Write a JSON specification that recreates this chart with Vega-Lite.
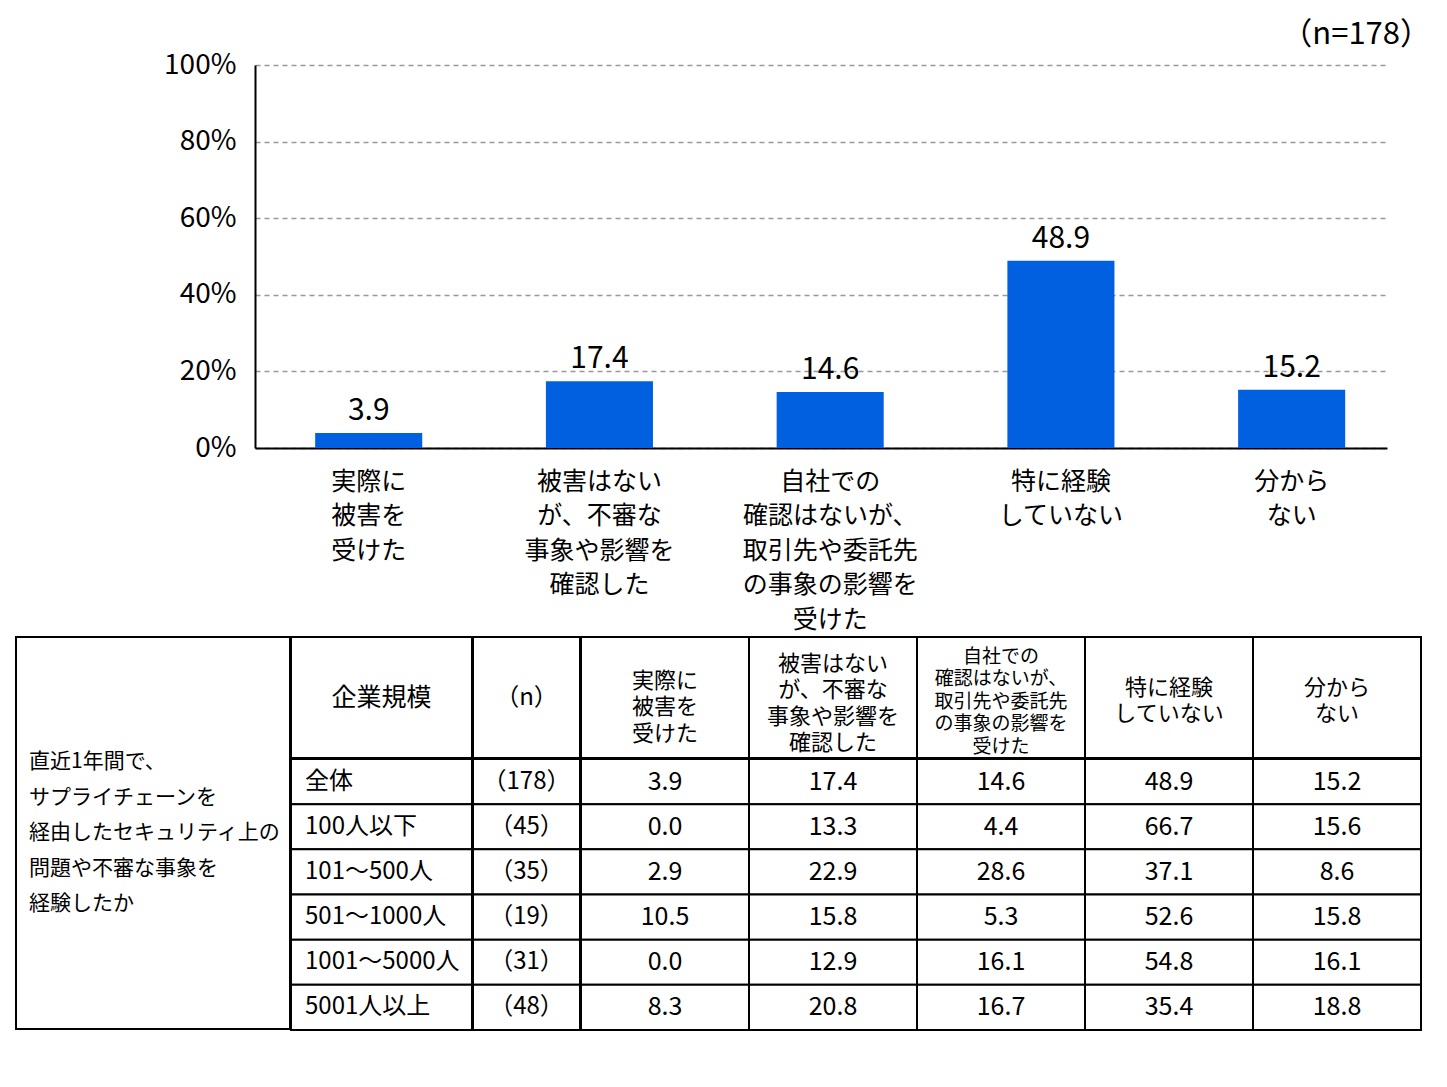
{
  "$schema": "https://vega.github.io/schema/vega-lite/v6.json",
  "background": "white",
  "padding": {"left": 15, "top": 19, "right": 10, "bottom": 10},
  "datasets": {
    "sizes": [
      {"size": "全体", "n": 178},
      {"size": "100人以下", "n": 45},
      {"size": "101～500人", "n": 35},
      {"size": "501～1000人", "n": 19},
      {"size": "1001～5000人", "n": 31},
      {"size": "5001人以上", "n": 48}
    ],
    "results": [
      {"size": "全体", "item": "実際に\n被害を\n受けた", "value": 3.9},
      {"size": "全体", "item": "被害はない\nが、不審な\n事象や影響を\n確認した", "value": 17.4},
      {"size": "全体", "item": "自社での\n確認はないが、\n取引先や委託先\nの事象の影響を\n受けた", "value": 14.6},
      {"size": "全体", "item": "特に経験\nしていない", "value": 48.9},
      {"size": "全体", "item": "分から\nない", "value": 15.2},
      {"size": "100人以下", "item": "実際に\n被害を\n受けた", "value": 0.0},
      {"size": "100人以下", "item": "被害はない\nが、不審な\n事象や影響を\n確認した", "value": 13.3},
      {"size": "100人以下", "item": "自社での\n確認はないが、\n取引先や委託先\nの事象の影響を\n受けた", "value": 4.4},
      {"size": "100人以下", "item": "特に経験\nしていない", "value": 66.7},
      {"size": "100人以下", "item": "分から\nない", "value": 15.6},
      {"size": "101～500人", "item": "実際に\n被害を\n受けた", "value": 2.9},
      {"size": "101～500人", "item": "被害はない\nが、不審な\n事象や影響を\n確認した", "value": 22.9},
      {"size": "101～500人", "item": "自社での\n確認はないが、\n取引先や委託先\nの事象の影響を\n受けた", "value": 28.6},
      {"size": "101～500人", "item": "特に経験\nしていない", "value": 37.1},
      {"size": "101～500人", "item": "分から\nない", "value": 8.6},
      {"size": "501～1000人", "item": "実際に\n被害を\n受けた", "value": 10.5},
      {"size": "501～1000人", "item": "被害はない\nが、不審な\n事象や影響を\n確認した", "value": 15.8},
      {"size": "501～1000人", "item": "自社での\n確認はないが、\n取引先や委託先\nの事象の影響を\n受けた", "value": 5.3},
      {"size": "501～1000人", "item": "特に経験\nしていない", "value": 52.6},
      {"size": "501～1000人", "item": "分から\nない", "value": 15.8},
      {"size": "1001～5000人", "item": "実際に\n被害を\n受けた", "value": 0.0},
      {"size": "1001～5000人", "item": "被害はない\nが、不審な\n事象や影響を\n確認した", "value": 12.9},
      {"size": "1001～5000人", "item": "自社での\n確認はないが、\n取引先や委託先\nの事象の影響を\n受けた", "value": 16.1},
      {"size": "1001～5000人", "item": "特に経験\nしていない", "value": 54.8},
      {"size": "1001～5000人", "item": "分から\nない", "value": 16.1},
      {"size": "5001人以上", "item": "実際に\n被害を\n受けた", "value": 8.3},
      {"size": "5001人以上", "item": "被害はない\nが、不審な\n事象や影響を\n確認した", "value": 20.8},
      {"size": "5001人以上", "item": "自社での\n確認はないが、\n取引先や委託先\nの事象の影響を\n受けた", "value": 16.7},
      {"size": "5001人以上", "item": "特に経験\nしていない", "value": 35.4},
      {"size": "5001人以上", "item": "分から\nない", "value": 18.8}
    ]
  },
  "config": {
    "font": "Noto Sans CJK JP",
    "view": {"stroke": null},
    "axis": {"minExtent": 0},
    "text": {"color": "black"}
  },
  "spacing": 4,
  "vconcat": [
    {
      "spacing": 0,
      "hconcat": [
        {
          "width": 1,
          "height": 1,
          "data": {"values": [{}]},
          "mark": {"type": "rect", "opacity": 0},
          "encoding": {}
        },
        {
          "width": 1132,
          "height": 383,
          "title": {"text": "（n=178）", "anchor": "end", "fontSize": 31, "fontWeight": "normal", "color": "black", "dx": 44, "offset": 0},
          "data": {"name": "results"},
          "transform": [{"filter": "datum.size == '全体'"}],
          "encoding": {
            "x": {
              "field": "item",
              "type": "nominal",
              "sort": null,
              "scale": {"paddingInner": 0.536, "paddingOuter": 0.221, "align": 0.59},
              "axis": {
                "title": null,
                "labelAngle": 0,
                "labelExpr": "split(datum.label, '\\n')",
                "labelFontSize": 25,
                "labelLineHeight": 34.5,
                "labelPadding": 21,
                "labelColor": "black",
                "labelBaseline": "top",
                "ticks": false,
                "domainColor": "black",
                "domainWidth": 2
              }
            },
            "y": {
              "field": "value",
              "type": "quantitative",
              "scale": {"domain": [0, 100]},
              "axis": {
                "title": null,
                "values": [0, 20, 40, 60, 80, 100],
                "labelExpr": "datum.value + '%'",
                "labelFontSize": 28,
                "labelPadding": 19,
                "labelColor": "black",
                "ticks": false,
                "domainColor": "black",
                "domainWidth": 2,
                "gridColor": "#999999",
                "gridDash": [5, 4],
                "gridWidth": 1.5,
                "minExtent": 238
              }
            }
          },
          "layer": [
            {"mark": {"type": "bar", "color": "#0060df"}},
            {
              "mark": {"type": "text", "fontSize": 30, "baseline": "alphabetic", "dy": -13},
              "encoding": {"text": {"field": "value", "format": ".1f"}}
            }
          ]
        }
      ]
    },
    {
      "spacing": -2,
      "hconcat": [
        {
          "width": 274,
          "height": 392,
          "view": {"stroke": "black", "strokeWidth": 2},
          "data": {"values": [{}]},
          "mark": {
            "type": "text",
            "text": ["直近1年間で、", "サプライチェーンを", "経由したセキュリティ上の", "問題や不審な事象を", "経験したか"],
            "align": "left",
            "baseline": "middle",
            "fontSize": 21,
            "lineHeight": 35.5,
            "dx": -124,
            "dy": -71
          },
          "encoding": {}
        },
        {
          "spacing": -2,
          "vconcat": [
            {
              "spacing": -2,
              "hconcat": [
                {
                  "width": 181,
                  "height": 121,
                  "view": {"stroke": "black", "strokeWidth": 2},
                  "data": {"values": [{}]},
                  "mark": {"type": "text", "text": "企業規模", "fontSize": 25, "baseline": "middle"},
                  "encoding": {}
                },
                {
                  "width": 107,
                  "height": 121,
                  "view": {"stroke": "black", "strokeWidth": 2},
                  "data": {"values": [{}]},
                  "mark": {"type": "text", "text": "（n）", "fontSize": 24, "baseline": "middle"},
                  "encoding": {}
                },
                {
                  "width": 840,
                  "height": 121,
                  "data": {"name": "results"},
                  "transform": [{"filter": "datum.size == '全体'"}],
                  "encoding": {
                    "x": {"field": "item", "type": "nominal", "sort": null, "scale": {"paddingInner": 0, "paddingOuter": 0}, "axis": null},
                    "text": {"field": "item"}
                  },
                  "layer": [
                    {"mark": {"type": "rect", "fill": "white", "stroke": "black", "strokeWidth": 2}},
                    {
                      "transform": [{"filter": "length(split(datum.item, '\\n')) == 2"}],
                      "mark": {"type": "text", "lineBreak": "\n", "fontSize": 22, "lineHeight": 26.5, "baseline": "middle", "dy": -10}
                    },
                    {
                      "transform": [{"filter": "length(split(datum.item, '\\n')) == 3"}],
                      "mark": {"type": "text", "lineBreak": "\n", "fontSize": 22, "lineHeight": 26.5, "baseline": "middle", "dy": -17}
                    },
                    {
                      "transform": [{"filter": "length(split(datum.item, '\\n')) == 4"}],
                      "mark": {"type": "text", "lineBreak": "\n", "fontSize": 22, "lineHeight": 26.5, "baseline": "middle", "dy": -34}
                    },
                    {
                      "transform": [{"filter": "length(split(datum.item, '\\n')) == 5"}],
                      "mark": {"type": "text", "lineBreak": "\n", "fontSize": 19, "lineHeight": 22.5, "baseline": "middle", "dy": -41}
                    }
                  ]
                }
              ]
            },
            {
              "spacing": -2,
              "hconcat": [
                {
                  "width": 181,
                  "height": 271,
                  "data": {"name": "sizes"},
                  "encoding": {
                    "y": {"field": "size", "type": "nominal", "sort": null, "scale": {"paddingInner": 0, "paddingOuter": 0}, "axis": null}
                  },
                  "layer": [
                    {"mark": {"type": "rect", "fill": "white", "stroke": "black", "strokeWidth": 2}},
                    {
                      "mark": {"type": "text", "align": "left", "fontSize": 24, "dx": -76.5},
                      "encoding": {"text": {"field": "size"}}
                    }
                  ]
                },
                {
                  "width": 107,
                  "height": 271,
                  "data": {"name": "sizes"},
                  "transform": [{"calculate": "'（' + datum.n + '）'", "as": "n_label"}],
                  "encoding": {
                    "y": {"field": "size", "type": "nominal", "sort": null, "scale": {"paddingInner": 0, "paddingOuter": 0}, "axis": null}
                  },
                  "layer": [
                    {"mark": {"type": "rect", "fill": "white", "stroke": "black", "strokeWidth": 2}},
                    {
                      "mark": {"type": "text", "fontSize": 24},
                      "encoding": {"text": {"field": "n_label"}}
                    }
                  ]
                },
                {
                  "width": 840,
                  "height": 271,
                  "data": {"name": "results"},
                  "encoding": {
                    "x": {"field": "item", "type": "nominal", "sort": null, "scale": {"paddingInner": 0, "paddingOuter": 0}, "axis": null},
                    "y": {"field": "size", "type": "nominal", "sort": null, "scale": {"paddingInner": 0, "paddingOuter": 0}, "axis": null}
                  },
                  "layer": [
                    {"mark": {"type": "rect", "fill": "white", "stroke": "black", "strokeWidth": 2}},
                    {
                      "mark": {"type": "text", "fontSize": 25},
                      "encoding": {"text": {"field": "value", "format": ".1f"}}
                    }
                  ]
                }
              ]
            }
          ]
        }
      ]
    }
  ]
}
